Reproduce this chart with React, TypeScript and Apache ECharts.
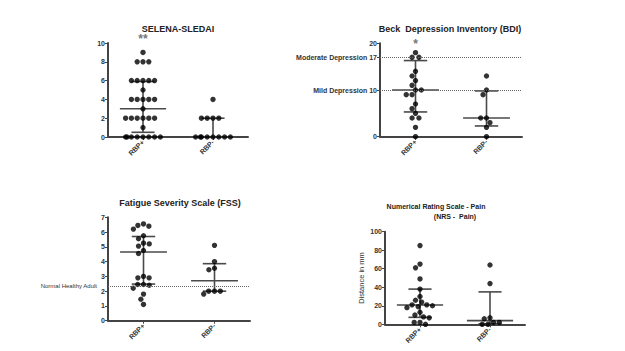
import React, { useEffect, useRef } from 'react';
import * as echarts from 'echarts';

const groups = ['RBP+', 'RBP-'];

// SELENA-SLEDAI
const sledaiPos = [9, 8, 8, 8, 6, 6, 6, 6, 6, 5, 4, 4, 4, 4, 4, 3, 2, 2, 2, 2, 2, 2, 1, 0, 0, 0, 0, 0, 0, 0, 0];
const sledaiNeg = [4, 2, 2, 2, 2, 0, 0, 0, 0, 0, 0, 0, 0];
const sledaiStats = [[3, 0.5, 5.9], [0, 0, 2]]; // median, q1, q3

// Beck Depression Inventory
const bdiPos = [18, 17, 17, 14, 13, 12, 11, 10, 10, 9, 9, 7, 6, 5, 4, 4, 2, 0];
const bdiNeg = [13, 10, 9, 4, 4, 3, 2, 0];
const bdiStats = [[10, 5.3, 16.3], [4, 2.3, 9.8]];
const bdiTicks = [0, 10, 17, 20];
const bdiTickLabels = ['0', 'Mild Depression 10', 'Moderate Depression 17', '20'];
const bdiRefLines = [17, 10];

// Fatigue Severity Scale
const fssPos = [6.55, 6.45, 6.4, 6.2, 5.75, 5.55, 5.25, 5.2, 5.05, 4.75, 4.55, 3.0, 2.9, 2.9, 2.45, 2.45, 2.4, 2.2, 1.8, 1.45, 1.1];
const fssNeg = [5.1, 4.0, 3.55, 3.45, 2.0, 2.0, 2.0, 1.8];
const fssStats = [[4.65, 2.48, 5.7], [2.7, 2.0, 3.86]];
const fssRefLine = 2.3;
const fssRefLabel = 'Normal Healthy Adult';

// Numerical Rating Scale - Pain
const nrsPos = [85, 65, 61, 49, 38, 30, 26, 24, 21, 21, 20, 19, 18, 13, 10, 8, 7, 2, 2, 0];
const nrsNeg = [64, 44, 7, 6, 2, 2, 0, 0];
const nrsStats = [[20.8, 7.5, 38], [4, 0.5, 35]];

const FONT = 'Liberation Sans, Arial, sans-serif';
const AXIS = '#444';
const LINE = '#4a4a4a';

export default function App() {
  const ref = useRef<HTMLDivElement>(null);

  useEffect(() => {
    if (!ref.current) return;
    const chart = echarts.init(ref.current, undefined, { renderer: 'svg' });

    const panels: any[] = [
      {
        grid: { left: 108, top: 43, width: 140, height: 94 },
        y: { min: 0, max: 10, interval: 2 },
        pos: sledaiPos, neg: sledaiNeg, stats: sledaiStats,
        star: { text: '**', value: 10, offset: -4 },
      },
      {
        grid: { left: 380, top: 43.3, width: 142, height: 93.4 },
        y: { min: 0, max: 20, custom: bdiTicks, labels: bdiTickLabels },
        pos: bdiPos, neg: bdiNeg, stats: bdiStats,
        star: { text: '*', value: 19.9, offset: 0 },
        refs: bdiRefLines.map((v) => ({ yAxis: v })),
      },
      {
        grid: { left: 108, top: 217.3, width: 142, height: 103.4 },
        y: { min: 0, max: 7, interval: 1 },
        pos: fssPos, neg: fssNeg, stats: fssStats,
        refs: [{ yAxis: fssRefLine }],
        refLabel: fssRefLabel,
      },
      {
        grid: { left: 385, top: 231.7, width: 140, height: 92.6 },
        y: { min: 0, max: 100, interval: 20, name: 'Distance in mm' },
        pos: nrsPos, neg: nrsNeg, stats: nrsStats,
      },
    ];

    const series: any[] = [];
    panels.forEach((p, i) => {
      series.push({
        type: 'custom',
        xAxisIndex: i,
        yAxisIndex: i,
        z: 2,
        clip: false,
        encode: { x: 0, y: [1, 2, 3] },
        data: p.stats.map((s: number[], k: number) => [k, s[0], s[1], s[2]]),
        renderItem: (params: any, api: any) => {
          const cat = api.value(0);
          const med = api.value(1);
          const q1 = api.value(2);
          const q3 = api.value(3);
          const band = api.size([1, 0])[0];
          const pm = api.coord([cat, med]);
          const p1 = api.coord([cat, q1]);
          const p3 = api.coord([cat, q3]);
          const hw = band * 0.33;
          const cw = band * 0.165;
          const st = { stroke: LINE, lineWidth: 1.6 };
          return {
            type: 'group',
            children: [
              { type: 'line', shape: { x1: pm[0] - hw, y1: pm[1], x2: pm[0] + hw, y2: pm[1] }, style: st },
              { type: 'line', shape: { x1: p1[0], y1: p1[1], x2: p3[0], y2: p3[1] }, style: st },
              { type: 'line', shape: { x1: p1[0] - cw, y1: p1[1], x2: p1[0] + cw, y2: p1[1] }, style: st },
              { type: 'line', shape: { x1: p3[0] - cw, y1: p3[1], x2: p3[0] + cw, y2: p3[1] }, style: st },
            ],
          };
        },
      });
      const sc: any = {
        type: 'scatter',
        xAxisIndex: i,
        yAxisIndex: i,
        z: 3,
        symbol: 'circle',
        symbolSize: 5.4,
        itemStyle: { color: '#000' },
        data: [...p.pos.map((v: number) => [0, v]), ...p.neg.map((v: number) => [1, v])],
      };
      if (p.refs) {
        sc.markLine = {
          silent: true,
          symbol: ['none', 'none'],
          lineStyle: { type: 'dotted', color: '#666', width: 1 },
          label: p.refLabel
            ? { show: true, position: 'start', formatter: p.refLabel, fontSize: 6, color: '#333', distance: 11, fontFamily: FONT, offset: [0, -1] }
            : { show: false },
          data: p.refs,
        };
      }
      if (p.star) {
        sc.markPoint = {
          silent: true,
          symbol: 'circle',
          symbolSize: 1,
          itemStyle: { color: 'rgba(0,0,0,0)' },
          label: {
            show: true,
            position: 'inside',
            offset: [0, p.star.offset],
            formatter: p.star.text,
            color: '#777',
            fontSize: 12,
            fontWeight: 'bold',
            fontFamily: FONT,
          },
          data: [{ coord: [0, p.star.value] }],
        };
      }
      series.push(sc);
    });

    const option: any = {
      animation: false,
      backgroundColor: '#fff',
      textStyle: { fontFamily: FONT },
      grid: panels.map((p) => ({ ...p.grid, containLabel: false })),
      xAxis: panels.map((p, i) => ({
        type: 'category',
        gridIndex: i,
        data: groups,
        boundaryGap: true,
        jitter: 40,
        jitterOverlap: false,
        jitterMargin: 0.4,
        axisLine: { show: true, lineStyle: { color: AXIS, width: 2 } },
        axisTick: { show: true, alignWithLabel: true, length: 3, lineStyle: { color: AXIS, width: 1 } },
        axisLabel: { rotate: 45, fontSize: 7, fontWeight: 'bold', color: '#333', margin: 4, fontFamily: FONT },
        splitLine: { show: false },
      })),
      yAxis: panels.map((p, i) => {
        const ax: any = {
          type: 'value',
          gridIndex: i,
          min: p.y.min,
          max: p.y.max,
          axisLine: { show: true, lineStyle: { color: AXIS, width: 2 } },
          axisTick: { show: true, length: 3, lineStyle: { color: AXIS, width: 1 } },
          axisLabel: { fontSize: 7, fontWeight: 'bold', color: '#333', margin: 3, fontFamily: FONT },
          splitLine: { show: false },
        };
        if (p.y.interval) ax.interval = p.y.interval;
        if (p.y.custom) {
          ax.axisTick.customValues = p.y.custom;
          ax.axisLabel.customValues = p.y.custom;
          ax.axisLabel.formatter = (v: number) => {
            const k = p.y.custom.indexOf(v);
            return k >= 0 ? p.y.labels[k] : '';
          };
        }
        if (p.y.name) {
          ax.name = p.y.name;
          ax.nameLocation = 'middle';
          ax.nameGap = 20;
          ax.nameTextStyle = { fontSize: 7.5, color: '#333', fontFamily: FONT };
        }
        return ax;
      }),
      graphic: [
        { type: 'text', x: 178, y: 29, style: { text: 'SELENA-SLEDAI', font: `bold 9px ${FONT}`, fill: '#222', align: 'center', verticalAlign: 'middle', textAlign: 'center', textVerticalAlign: 'middle' } },
        { type: 'text', x: 450, y: 29, style: { text: 'Beck  Depression Inventory (BDI)', font: `bold 9px ${FONT}`, fill: '#222', align: 'center', verticalAlign: 'middle', textAlign: 'center', textVerticalAlign: 'middle' } },
        { type: 'text', x: 180, y: 203, style: { text: 'Fatigue Severity Scale (FSS)', font: `bold 9px ${FONT}`, fill: '#222', align: 'center', verticalAlign: 'middle', textAlign: 'center', textVerticalAlign: 'middle' } },
        { type: 'text', x: 436, y: 206, style: { text: 'Numerical Rating Scale - Pain', font: `bold 7px ${FONT}`, fill: '#222', align: 'center', verticalAlign: 'middle', textAlign: 'center', textVerticalAlign: 'middle' } },
        { type: 'text', x: 455, y: 216, style: { text: '(NRS -  Pain)', font: `bold 7px ${FONT}`, fill: '#222', align: 'center', verticalAlign: 'middle', textAlign: 'center', textVerticalAlign: 'middle' } },
      ],
      series,
    };

    chart.setOption(option);
    return () => chart.dispose();
  }, []);

  return <div ref={ref} style={{ position: 'fixed', left: 0, top: 0, width: 625, height: 351, background: '#fff' }} />;
}
